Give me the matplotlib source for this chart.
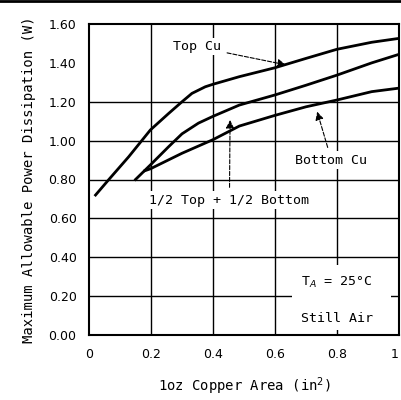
import matplotlib.pyplot as plt
from matplotlib.patches import Rectangle

# curve data
top_x = [0.021, 0.064, 0.128, 0.198, 0.257, 0.30, 0.332, 0.375, 0.40, 0.485,
         0.60, 0.70, 0.80, 0.912, 1.0]
top_y = [0.72, 0.80, 0.917, 1.055, 1.14, 1.20, 1.243, 1.277, 1.29, 1.329,
         1.375, 1.423, 1.47, 1.506, 1.526]

mid_x = [0.15, 0.198, 0.257, 0.30, 0.353, 0.40, 0.485, 0.60, 0.70, 0.80, 0.912, 1.0]
mid_y = [0.80, 0.875, 0.969, 1.035, 1.09, 1.125, 1.183, 1.235, 1.285, 1.337, 1.40, 1.444]

bot_x = [0.18, 0.198, 0.30, 0.40, 0.485, 0.60, 0.70, 0.80, 0.912, 1.0]
bot_y = [0.845, 0.855, 0.935, 1.005, 1.075, 1.13, 1.174, 1.209, 1.252, 1.27]

xticks = [0, 0.2, 0.4, 0.6, 0.8, 1.0]
xtick_labels = ["0", "0.2", "0.4", "0.6", "0.8", "1"]
yticks = [0.0, 0.2, 0.4, 0.6, 0.8, 1.0, 1.2, 1.4, 1.6]
ytick_labels = ["0.00", "0.20", "0.40", "0.60", "0.80", "1.00", "1.20", "1.40", "1.60"]

mono = "DejaVu Sans Mono"

fig = plt.figure(figsize=(4.01, 4.0), dpi=100)
ax = fig.add_axes([0.222, 0.1625, 0.773, 0.7775])

# grid (no line at 1.40 in the original)
for gx in [0.2, 0.4, 0.6, 0.8]:
    ax.axvline(gx, color='black', lw=1.0, zorder=1)
for gy in [0.2, 0.4, 0.6, 0.8, 1.0, 1.2]:
    ax.axhline(gy, color='black', lw=1.0, zorder=1)

# blank area behind the conditions note
ax.add_patch(Rectangle((0.655, 0.025), 0.32, 0.335, facecolor='white',
                       edgecolor='none', zorder=2))

ax.plot(top_x, top_y, color='black', lw=2.0, zorder=3)
ax.plot(mid_x, mid_y, color='black', lw=2.0, zorder=3)
ax.plot(bot_x, bot_y, color='black', lw=2.0, zorder=3)

fs = 9.5
box = dict(facecolor='white', edgecolor='none', pad=1.5)
arrow = dict(arrowstyle='-|>', ls='--', lw=0.8, color='black',
             shrinkA=3, shrinkB=0, mutation_scale=12)

ax.annotate("Top Cu", xy=(0.635, 1.39), xytext=(0.348, 1.483), fontsize=fs,
            family=mono, ha='center', va='center', bbox=box, zorder=4,
            arrowprops=arrow)
ax.annotate("Bottom Cu", xy=(0.736, 1.149), xytext=(0.782, 0.90), fontsize=fs,
            family=mono, ha='center', va='center', bbox=box, zorder=4,
            arrowprops=arrow)
ax.annotate("1/2 Top + 1/2 Bottom", xy=(0.455, 1.106), xytext=(0.453, 0.694),
            fontsize=fs, family=mono, ha='center', va='center', bbox=box,
            zorder=4, arrowprops=arrow)

ax.text(0.685, 0.27, "T$_A$ = 25°C", fontsize=fs, family=mono, ha='left',
        va='center', zorder=4)
ax.text(0.685, 0.085, "Still Air", fontsize=fs, family=mono, ha='left',
        va='center', zorder=4)

ax.set_xlim(0, 1.0)
ax.set_ylim(0, 1.6)
ax.set_xticks(xticks)
ax.set_xticklabels(xtick_labels, fontsize=9)
ax.get_xticklabels()[-1].set_ha('right')
ax.set_yticks(yticks)
ax.set_yticklabels(ytick_labels, fontsize=9)
ax.tick_params(length=0, pad=9)
for s in ax.spines.values():
    s.set_linewidth(1.5)

ax.set_xlabel("1oz Copper Area (in$^2$)", fontsize=10, family=mono, labelpad=11)
ax.set_ylabel("Maximum Allowable Power Dissipation (W)", fontsize=10,
              family=mono, labelpad=9)

# black rule across the top of the image
fig.add_artist(plt.Line2D([0, 1], [0.997, 0.997], color='black', lw=2,
                          transform=fig.transFigure))

fig.savefig("out.png", dpi=100)
